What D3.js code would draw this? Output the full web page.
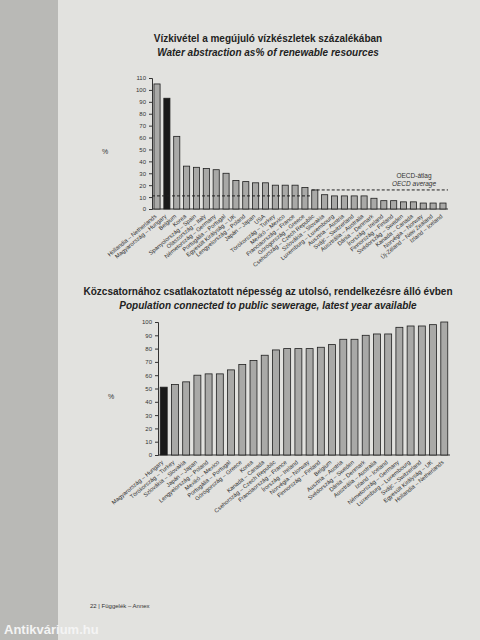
<!DOCTYPE html>
<html><head><meta charset="utf-8">
<script src="https://cdn.jsdelivr.net/npm/d3@7"></script>
<style>body{margin:0;background:#cfcfcc}svg{display:block;font-family:Arial,"Liberation Sans",sans-serif}</style>
</head><body><svg id="c" width="480" height="640"></svg>
<script>
// felső diagram: vízkivétel
const waterCountries = ["Hollandia – Netherlands","Magyarország – Hungary","Belgium","Korea","Spanyolország – Spain","Olaszország – Italy","Németország – Germany","Portugália – Portugal","Egyesült Királyság – UK","Lengyelország – Poland","Japán – Japan","USA","Törökország – Turkey","Mexikó – Mexico","Franciaország – France","Görögország – Greece","Csehország – Czech Republic","Szlovákia – Slovakia","Luxemburg – Luxembourg","Ausztria – Austria","Svájc – Switzerland","Ausztrália – Australia","Dánia – Denmark","Írország – Ireland","Finnország – Finland","Svédország – Sweden","Kanada – Canada","Norvégia – Norway","Új-Zéland – New Zealand","Izland – Iceland"];
const waterValues = [105,93,61,36,35,34,33,30,24,23,22,22,20,20,20,18,16,12,11,11,11,11,9,7,7,6,6,5,5,5];
const waterTicks = [0,10,20,30,40,50,60,70,80,90,100,110];
const oecdAvg = 11;

// alsó diagram: közcsatorna
const sewerCountries = ["Magyarország – Hungary","Törökország – Turkey","Szlovákia – Slovakia","Japán – Japan","Lengyelország – Poland","Mexikó – Mexico","Portugália – Portugal","Görögország – Greece","Korea","Kanada – Canada","Csehország – Czech Republic","Franciaország – France","Írország – Ireland","Norvégia – Norway","Finnország – Finland","Belgium","Ausztria – Austria","Svédország – Sweden","Dánia – Denmark","Ausztrália – Australia","Izland – Iceland","Németország – Germany","Luxemburg – Luxembourg","Svájc – Switzerland","Egyesült Királyság – UK","Hollandia – Netherlands"];
const sewerValues = [51,53,55,60,61,61,64,68,71,75,79,80,80,80,81,83,87,87,90,91,91,96,97,97,98,100];
const sewerTicks = [0,10,20,30,40,50,60,70,80,90,100];

const svg = d3.select("#c");
svg.append("rect").attr("x",58).attr("y",0).attr("width",422).attr("height",640).attr("fill","#e2e2df");
svg.append("rect").attr("x",0).attr("y",0).attr("width",58).attr("height",640).attr("fill","#b9b9b6");

function chart(cfg){
  const g = svg.append("g");
  const x = d3.scaleBand().domain(cfg.cats).range([cfg.x0,cfg.x1]).paddingInner(0.38).paddingOuter(0.2);
  const y = d3.scaleLinear().domain([0,cfg.max]).range([cfg.y0,cfg.y1]);
  g.append("text").attr("x",cfg.tx).attr("y",cfg.ty).attr("text-anchor","middle").attr("font-size",10).attr("font-weight","bold").attr("fill","#222").text(cfg.t1);
  g.append("text").attr("x",cfg.tx).attr("y",cfg.ty+14).attr("text-anchor","middle").attr("font-size",10).attr("font-weight","bold").attr("font-style","italic").attr("fill","#222").text(cfg.t2);
  const ax = g.append("g").attr("transform",`translate(${cfg.x0},0)`).call(d3.axisLeft(y).tickValues(cfg.ticks).tickSize(3));
  ax.selectAll("text").attr("font-size",6).attr("fill","#333");
  ax.selectAll("path,line").attr("stroke","#333");
  g.append("line").attr("x1",cfg.x0).attr("x2",cfg.x1).attr("y1",cfg.y0).attr("y2",cfg.y0).attr("stroke","#333");
  g.append("text").attr("x",cfg.x0-50).attr("y",(cfg.y0+cfg.y1)/2+10).attr("font-size",7).attr("fill","#333").text("%");
  g.selectAll("rect.b").data(cfg.vals).join("rect")
    .attr("x",(d,i)=>x(cfg.cats[i])).attr("width",x.bandwidth())
    .attr("y",d=>y(d)).attr("height",d=>cfg.y0-y(d))
    .attr("fill",(d,i)=>cfg.cats[i].startsWith("Magyar")?"#1a1a1a":"#a9a9a7")
    .attr("stroke","#1e1e1e").attr("stroke-width",0.8);
  g.selectAll("text.l").data(cfg.cats).join("text")
    .attr("transform",d=>`translate(${x(d)+x.bandwidth()/2},${cfg.y0+8}) rotate(-40)`)
    .attr("text-anchor","end").attr("font-size",5.8).attr("fill","#333").text(d=>d);
  return {x,y,g};
}

const waterChart = chart({cats:waterCountries,vals:waterValues,ticks:waterTicks,max:110,x0:152,x1:448,y0:209,y1:78,
  tx:268,ty:42,t1:"Vízkivétel a megújuló vízkészletek százalékában",t2:"Water abstraction as% of renewable resources"});
const split = waterChart.x(waterCountries[16]);
waterChart.g.append("line").attr("x1",152).attr("x2",split).attr("y1",waterChart.y(oecdAvg)).attr("y2",waterChart.y(oecdAvg))
  .attr("stroke","#222").attr("stroke-dasharray","3,2");
waterChart.g.append("line").attr("x1",split).attr("x2",448).attr("y1",waterChart.y(16)).attr("y2",waterChart.y(16))
  .attr("stroke","#222").attr("stroke-dasharray","3,2");
waterChart.g.append("text").attr("x",414).attr("y",178).attr("text-anchor","middle").attr("font-size",6.5).attr("fill","#333").text("OECD-átlag");
waterChart.g.append("text").attr("x",414).attr("y",186).attr("text-anchor","middle").attr("font-size",6.5).attr("font-style","italic").attr("fill","#333").text("OECD average");

chart({cats:sewerCountries,vals:sewerValues,ticks:sewerTicks,max:100,x0:158,x1:450,y0:455,y1:322,
  tx:268,ty:295,t1:"Közcsatornához csatlakoztatott népesség az utolsó, rendelkezésre álló évben",t2:"Population connected to public sewerage, latest year available"});

svg.append("text").attr("x",90).attr("y",608).attr("font-size",6).attr("fill","#333").text("22 | Függelék – Annex");
svg.append("text").attr("x",4).attr("y",634).attr("font-size",13).attr("font-weight","bold").attr("fill","#f4f4f4").text("Antikvárium.hu");
</script></body></html>
